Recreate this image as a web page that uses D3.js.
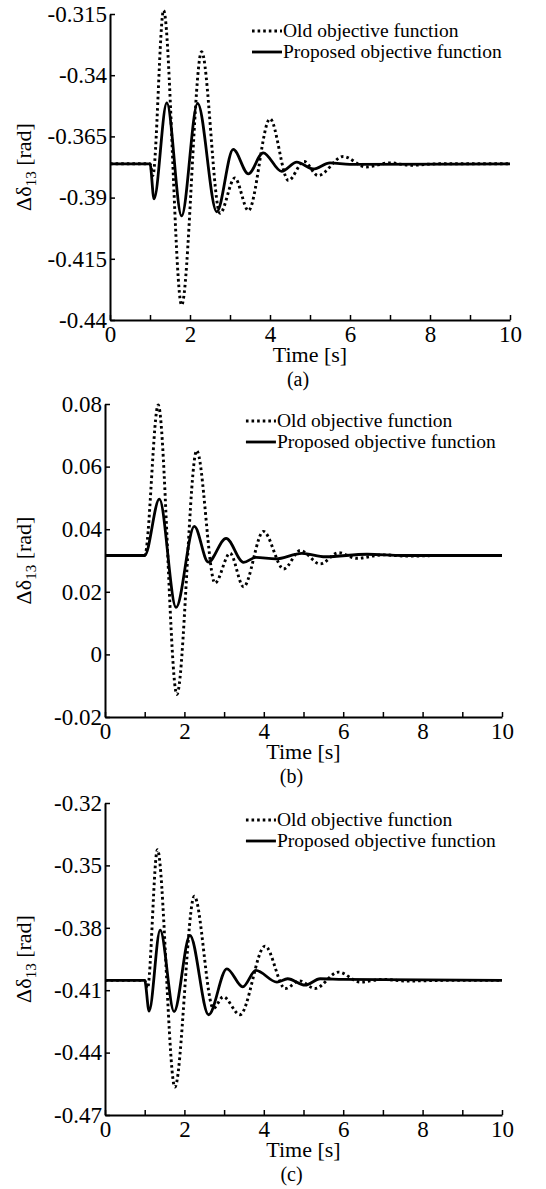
<!DOCTYPE html>
<html lang="en">
    <head>
        <meta charset="utf-8">
        <title>Delta delta 13 responses</title>
        <script type="text/javascript" src="https://d3js.org/d3.v7.min.js"></script>
        <style type="text/css">
            body { margin: 0; background: #fff; }
            text { font-family: "Liberation Serif", "Times New Roman", serif; fill: #000; }
        </style>
    </head>
    <body>
        <div id="chart"></div>
        <script type="text/javascript">

            // time ticks (every second, label on even ones)
            var timeTicks = [0, 1, 2, 3, 4, 5, 6, 7, 8, 9, 10];
            var legendNames = ["Old objective function", "Proposed objective function"];
            var panelTags = ["(a)", "(b)", "(c)"];

            // y tick values of each panel
            var yTicksA = [-0.44, -0.415, -0.39, -0.365, -0.34, -0.315];
            var yTicksB = [-0.02, 0, 0.02, 0.04, 0.06, 0.08];
            var yTicksC = [-0.47, -0.44, -0.41, -0.38, -0.35, -0.32];

            // [time, value]
            var oldA = [[0,-0.3762],[1.0,-0.3762],[1.07,-0.381],[1.34,-0.3135],[1.79,-0.4339],[2.29,-0.3304],[2.75,-0.3964],[3.12,-0.382],[3.46,-0.3953],[4.0,-0.3578],[4.46,-0.383],[4.85,-0.3752],[5.2,-0.381],[5.83,-0.3732],[6.4,-0.3775],[7.0,-0.3758],[7.5,-0.3768],[8.2,-0.3762],[10,-0.3762]];
            var newA = [[0,-0.3762],[1.0,-0.3762],[1.1,-0.3905],[1.42,-0.3513],[1.79,-0.3975],[2.19,-0.3515],[2.67,-0.3958],[3.08,-0.3703],[3.46,-0.3803],[3.83,-0.3717],[4.29,-0.3793],[4.67,-0.3755],[5.08,-0.3783],[5.5,-0.3758],[6.0,-0.3764],[10,-0.3762]];

            var oldB = [[0,0.0316],[1.0,0.0316],[1.34,0.0797],[1.81,-0.0128],[2.31,0.0651],[2.77,0.0228],[3.15,0.0323],[3.49,0.0216],[3.99,0.0393],[4.5,0.0273],[4.92,0.0332],[5.42,0.0289],[5.88,0.0325],[6.34,0.0307],[7.0,0.0318],[7.6,0.0314],[8.5,0.0316],[10,0.0316]];
            var newB = [[0,0.0316],[1.0,0.0316],[1.37,0.0496],[1.79,0.015],[2.25,0.0409],[2.6,0.0295],[3.05,0.0371],[3.49,0.0294],[3.8,0.031],[4.3,0.0305],[4.96,0.0323],[5.55,0.0312],[6.6,0.032],[7.5,0.0316],[10,0.0316]];

            var oldC = [[0,-0.4053],[1.0,-0.4053],[1.07,-0.409],[1.32,-0.3424],[1.76,-0.4566],[2.25,-0.3648],[2.73,-0.4187],[2.98,-0.4132],[3.40,-0.4218],[4.03,-0.3888],[4.54,-0.4092],[4.9,-0.4055],[5.29,-0.4092],[5.88,-0.4013],[6.43,-0.4061],[7.0,-0.4048],[7.6,-0.4056],[8.5,-0.4053],[10,-0.4053]];
            var newC = [[0,-0.4053],[1.0,-0.4053],[1.11,-0.420],[1.39,-0.3811],[1.74,-0.4203],[2.14,-0.3837],[2.61,-0.4218],[3.07,-0.3997],[3.47,-0.4084],[3.8,-0.4005],[4.33,-0.4061],[4.6,-0.4045],[5.04,-0.4076],[5.42,-0.4045],[6.0,-0.4048],[10,-0.4053]];

            // where each panel sits on the page
            var panels = [
                {left: 110, right: 510, top: 14, bottom: 320, ticks: yTicksA, old: oldA, prop: newA, tag: panelTags[0]},
                {left: 105, right: 502, top: 404, bottom: 717, ticks: yTicksB, old: oldB, prop: newB, tag: panelTags[1]},
                {left: 105, right: 502, top: 803, bottom: 1115, ticks: yTicksC, old: oldC, prop: newC, tag: panelTags[2]}
            ];

            var svg = d3.select("#chart")
                .append("svg")
                    .attr("width", 546)
                    .attr("height", 1189);

            panels.forEach(function(p) {
                var x = d3.scaleLinear().domain([0, 10]).range([p.left, p.right]);
                var y = d3.scaleLinear().domain(d3.extent(p.ticks)).range([p.bottom, p.top]);

                // x axis, ticks pointing inward
                var gx = svg.append("g")
                    .attr("transform", "translate(0," + p.bottom + ")")
                    .call(d3.axisBottom(x)
                        .tickValues(timeTicks)
                        .tickSizeInner(-5)
                        .tickSizeOuter(0)
                        .tickPadding(6)
                        .tickFormat(function(d) { return d % 2 === 0 ? d : ""; }));

                // y axis
                var gy = svg.append("g")
                    .attr("transform", "translate(" + p.left + ",0)")
                    .call(d3.axisLeft(y)
                        .tickValues(p.ticks)
                        .tickSizeInner(-5)
                        .tickSizeOuter(0)
                        .tickPadding(3)
                        .tickFormat(function(d) { return String(+d.toFixed(3)); }));

                [gx, gy].forEach(function(g) {
                    g.select(".domain").attr("stroke", "#000").attr("stroke-width", 2);
                    g.selectAll(".tick line").attr("stroke", "#000").attr("stroke-width", 1.5);
                    g.selectAll(".tick text")
                        .attr("font-family", "Liberation Serif")
                        .attr("font-size", 23)
                        .attr("fill", "#000");
                });

                var line = d3.line()
                    .x(function(d) { return x(d[0]); })
                    .y(function(d) { return y(d[1]); })
                    .curve(d3.curveMonotoneX);

                svg.append("path")
                    .datum(p.old)
                    .attr("fill", "none")
                    .attr("stroke", "#000")
                    .attr("stroke-width", 2.9)
                    .attr("stroke-dasharray", "2.6,3")
                    .attr("d", line);

                svg.append("path")
                    .datum(p.prop)
                    .attr("fill", "none")
                    .attr("stroke", "#000")
                    .attr("stroke-width", 2.8)
                    .attr("d", line);

                // legend
                var lx = x(3.55), ly = p.top + 17;
                [0, 1].forEach(function(i) {
                    var yy = ly + i * 21;
                    svg.append("line")
                        .attr("x1", lx).attr("x2", lx + 30)
                        .attr("y1", yy).attr("y2", yy)
                        .attr("stroke", "#000")
                        .attr("stroke-width", 2.8)
                        .attr("stroke-dasharray", i === 0 ? "2.6,3" : null);
                    svg.append("text")
                        .attr("x", lx + 31)
                        .attr("y", yy + 6)
                        .attr("font-size", 19.5)
                        .text(legendNames[i]);
                });

                // y label with subscript
                var yl = svg.append("text")
                    .attr("transform", "translate(31," + (p.top + p.bottom) / 2 + ") rotate(-90)")
                    .attr("text-anchor", "middle")
                    .attr("font-size", 22);
                yl.append("tspan").text("\u0394\u03b4");
                yl.append("tspan").attr("font-size", 15).attr("dy", 5).text("13");
                yl.append("tspan").attr("dy", -5).text(" [rad]");

                // x label and panel tag
                svg.append("text")
                    .attr("x", (p.left + p.right) / 2)
                    .attr("y", p.bottom + 42)
                    .attr("text-anchor", "middle")
                    .attr("font-size", 22)
                    .text("Time [s]");

                svg.append("text")
                    .attr("x", (p.left + p.right) / 2 - 12)
                    .attr("y", p.bottom + 66)
                    .attr("text-anchor", "middle")
                    .attr("font-size", 20)
                    .text(p.tag);
            });
        </script>
    </body>
</html>
